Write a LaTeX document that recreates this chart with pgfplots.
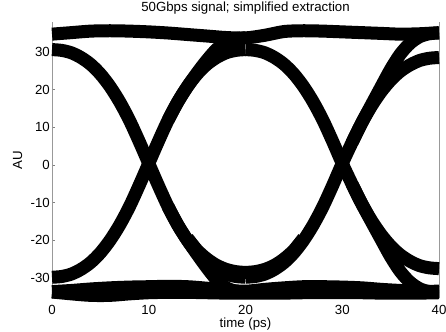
\documentclass[border=0pt]{standalone}
\usepackage{fontspec}
\setmainfont{Liberation Sans}
\usepackage{pgfplots}
\pgfplotsset{compat=1.18}
\newcommand\lab{\fontsize{13.3}{15}\selectfont}
\begin{document}
\begin{tikzpicture}
\begin{axis}[
  name=ax,
  scale only axis, width=387bp, height=276.3bp,
  xmin=0, xmax=40, ymin=-35.3, ymax=38,
  xtick={0,10,20,30,40}, ytick={-30,-20,-10,0,10,20,30},
  axis x line*=bottom, axis y line*=box,
  ytick pos=left,
  tick align=inside,
  major tick length=3bp,
  tick style={gray, line width=0.5bp},
  axis line style={-, gray!80, line width=0.6bp},
  clip=false,
  /pgf/number format/assume math mode=true,
  ticklabel style={font=\lab, inner sep=0pt},
  xticklabel style={anchor=north, yshift=-7bp},
  yticklabel style={anchor=east, xshift=-2bp},
  title={50Gbps signal; simplified extraction},
  title style={font=\lab, at={(axis description cs:0.5,1)}, anchor=base, inner sep=0pt, yshift=4bp},
  xlabel={time (ps)},
  xlabel style={font=\lab, at={(axis description cs:0.5,0)}, anchor=base, inner sep=0pt, yshift=-29bp},
  ylabel={AU},
  ylabel style={font=\lab, at={(axis description cs:-0.0775,0.5)}, anchor=base, inner sep=0pt},
  cycle list={{black, solid}},
  every axis plot post/.append style={draw=black, solid, line width=13bp, line cap=butt, line join=round, smooth, tension=0.5, mark=none},
]
% top rail
\addplot coordinates {(0,34.7)(2,35.1)(4,35.5)(6,35.6)(8,35.5)(10,35.3)(12,35.0)(14,34.6)(16,34.2)(18,33.8)(20,33.7)(22,34.4)(24,35.4)(26,35.6)(28,35.5)(30,35.3)(32,35.1)(34,34.9)(36,34.7)(38,34.8)(40,35.1)};
% bottom rails
\addplot coordinates {(0,-33.7)(2,-34.2)(4,-34.6)(6,-34.6)(8,-34.2)(10,-33.9)(12,-33.8)(14,-33.8)(16,-33.9)(18,-34.0)(20,-34.0)(22,-34.0)(24,-34.0)(26,-33.9)(28,-33.9)(30,-33.9)(32,-33.9)(34,-34.0)(36,-34.0)(38,-34.0)(40,-33.9)};
\addplot coordinates {(0,-33.6)(2,-33.3)(4,-32.9)(6,-32.6)(8,-32.4)(10,-32.3)(12,-32.2)(14,-32.3)(16,-32.7)(18,-33.2)(20,-33.5)(22,-33.0)(24,-32.6)(26,-32.3)(28,-32.3)(30,-32.4)(32,-32.6)(34,-33.0)(36,-33.3)(38,-33.5)(40,-33.5)};
% first half: rising arc
\addplot coordinates {(0,-29.8)(1,-29.59)(2,-28.95)(3,-27.69)(4,-25.87)(5,-23.31)(6,-19.99)(7,-15.91)(8,-11.08)(9,-5.49)(10,0.4)(11,6.29)(12,11.88)(13,16.71)(14,20.79)(15,24.11)(16,26.67)(17,28.49)(18,29.75)(19,30.39)(20,30.6)};
% first half: falling arc
\addplot coordinates {(0,30.6)(1,30.39)(2,29.75)(3,28.49)(4,26.67)(5,24.11)(6,20.79)(7,16.71)(8,11.88)(9,6.29)(10,0.4)(11,-5.49)(12,-11.08)(13,-15.91)(14,-19.99)(15,-23.31)(16,-25.87)(17,-27.69)(18,-28.95)(19,-29.59)(20,-29.8)};
% lower-amplitude traces near the bottom of the eye at 20 ps
\addplot coordinates {(14,-19.4)(15,-22.6)(16,-24.9)(17,-26.6)(18,-27.7)(19,-28.3)(20,-28.5)(21,-28.3)(22,-27.7)(23,-26.6)(24,-24.9)(25,-22.6)(26,-19.4)};
% first half: rising into rail
\addplot coordinates {(12,11.88)(13,16.71)(14,20.79)(15,24.42)(16,27.76)(17,30.66)(18,32.60)(19,33.49)(20,33.70)};
% first half: falling into rail
\addplot coordinates {(12,-11.08)(13,-15.91)(14,-19.99)(15,-23.70)(16,-27.24)(17,-30.42)(18,-32.54)(19,-33.49)(20,-33.70)};
% second half: rising arc
\addplot coordinates {(20,-29.8)(21,-29.59)(22,-28.95)(23,-27.69)(24,-25.87)(25,-23.31)(26,-19.99)(27,-15.91)(28,-11.08)(29,-5.49)(30,0.4)(31,5.88)(32,11.08)(33,15.57)(34,19.37)(35,22.46)(36,24.85)(37,26.53)(38,27.71)(39,28.30)(40,28.5)};
% second half: falling arc
\addplot coordinates {(20,30.6)(21,30.39)(22,29.75)(23,28.49)(24,26.67)(25,24.11)(26,20.79)(27,16.71)(28,11.88)(29,6.29)(30,0.4)(31,-5.04)(32,-10.20)(33,-14.67)(34,-18.43)(35,-21.50)(36,-23.87)(37,-25.55)(38,-26.72)(39,-27.30)(40,-27.5)};
% second half: rising into rail
\addplot coordinates {(31,5.88)(32,11.08)(33,15.90)(34,20.67)(35,25.39)(36,29.40)(37,32.25)(38,34.02)(39,34.8)(40,35.0)};
% second half: falling into rail
\addplot coordinates {(31,-5.04)(32,-10.20)(33,-14.99)(34,-19.69)(35,-24.34)(36,-28.28)(37,-31.09)(38,-32.83)(39,-33.6)(40,-33.8)};
\end{axis}
\pgfresetboundingbox
\path ([shift={(-52bp,-33bp)}]ax.south west) rectangle ([shift={(7bp,21.7bp)}]ax.north east);
\end{tikzpicture}
\end{document}
